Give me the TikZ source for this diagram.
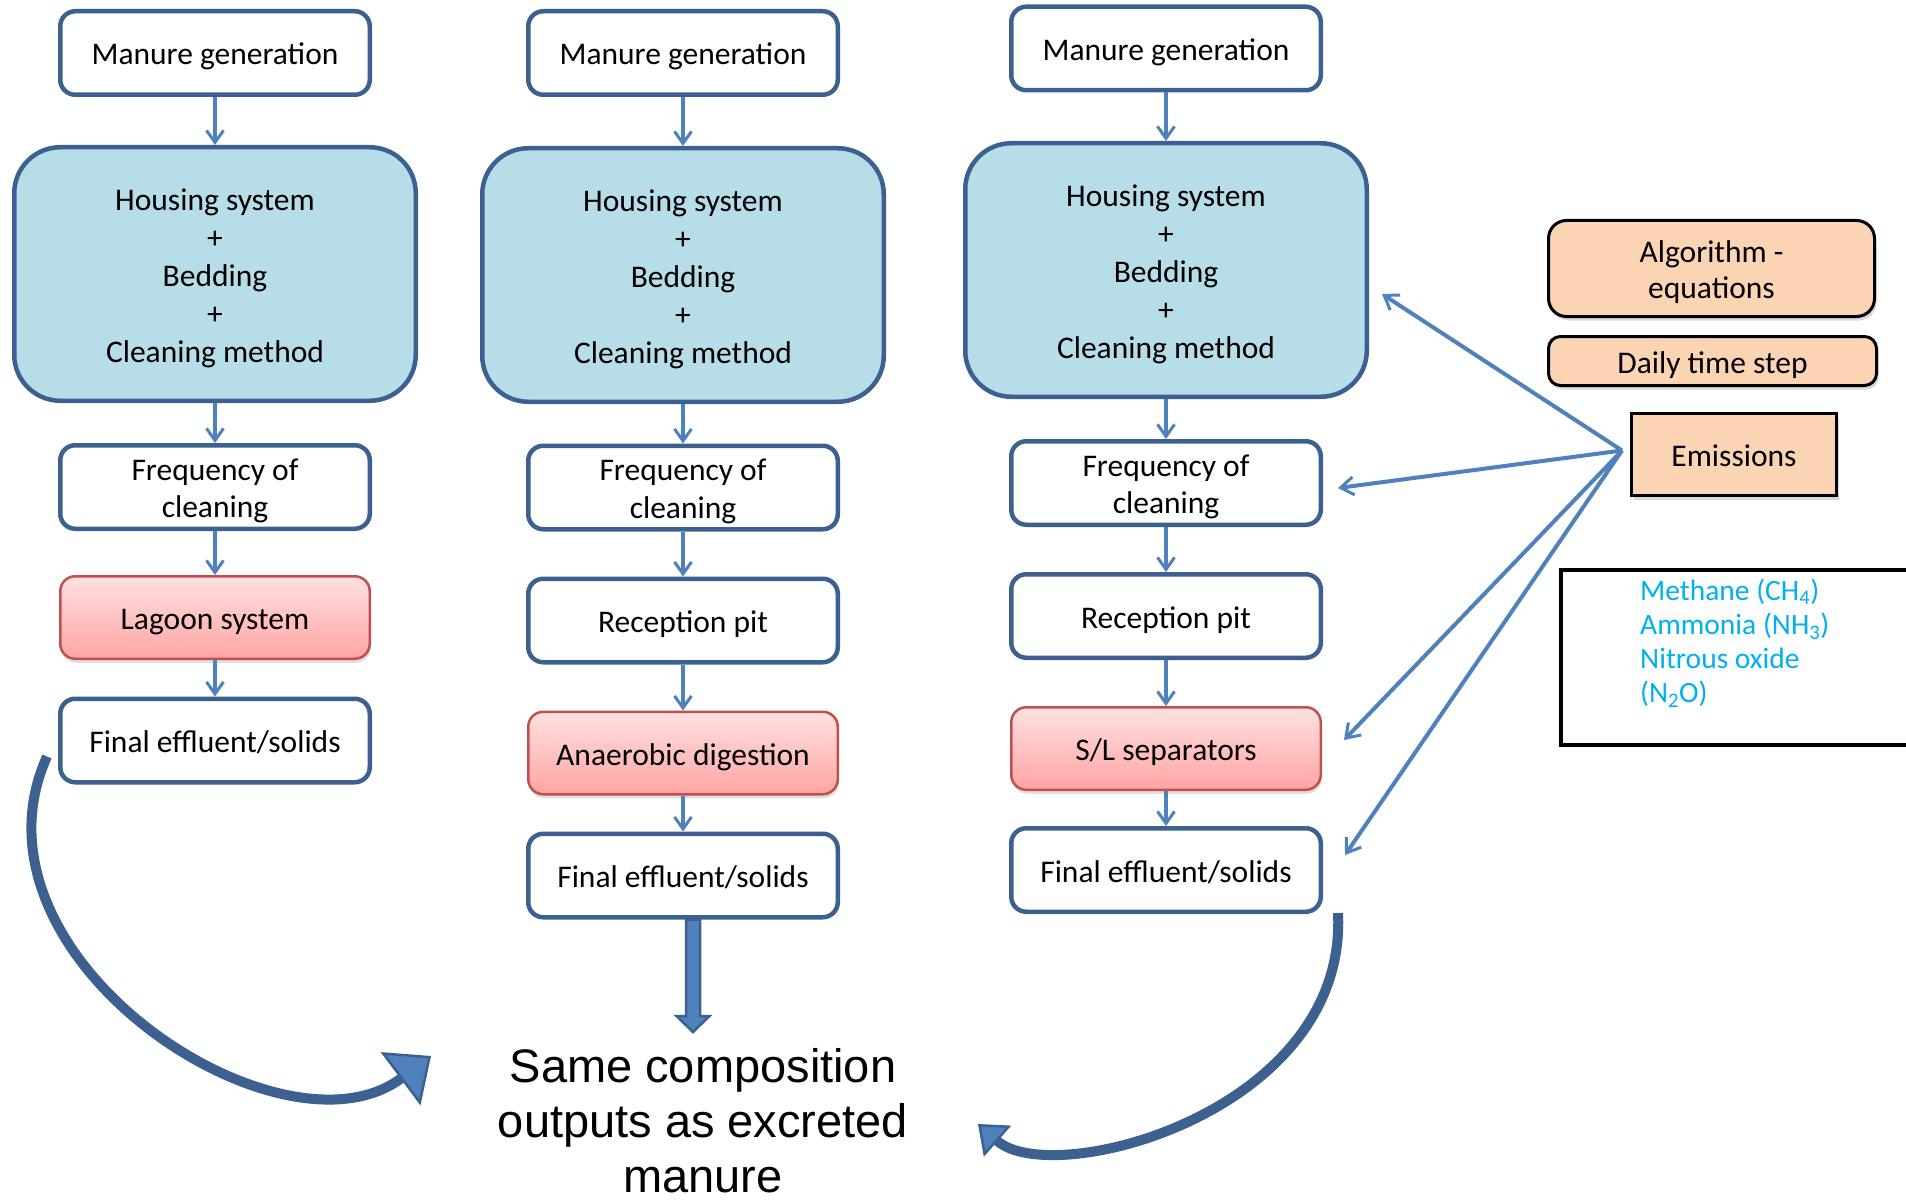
\documentclass[tikz,border=0pt]{standalone}
\usepackage{fontspec}
\setmainfont{Carlito}
\newfontfamily\capfont{Liberation Sans}
\usetikzlibrary{arrows.meta,calc,shadows}

\definecolor{boxline}{HTML}{3C6191}
\definecolor{flowblue}{HTML}{4F81BD}
\definecolor{housefill}{HTML}{B7DDE8}
\definecolor{redline}{HTML}{C0504D}
\definecolor{redtop}{HTML}{FFE1E1}
\definecolor{redbot}{HTML}{FFA4A4}
\definecolor{peach}{HTML}{FBD4B4}
\definecolor{gascyan}{HTML}{00B0F0}

% multi-line nodes keep the last baseline as reference, so their
% text height counts every line above the last one
\tikzset{
  boxfont/.style={font=\fontsize{31.5}{37.5}\selectfont, text height=24pt, text depth=0pt},
  twolines/.style={text height=61.5pt},
  stagebox/.style={boxfont, draw=boxline, line width=4.5pt, rounded corners=15pt, fill=white,
    minimum width=309.5pt, minimum height=83.5pt, align=center, inner sep=0pt},
  housebox/.style={boxfont, font=\fontsize{31.5}{38}\selectfont, text height=176pt,
    draw=boxline, line width=4.5pt, rounded corners=46pt, fill=housefill,
    minimum width=401.5pt, minimum height=253.5pt, align=center, inner sep=0pt},
  treatbox/.style={boxfont, draw=redline, line width=2.5pt, rounded corners=15pt,
    top color=redtop, bottom color=redbot, minimum width=309.5pt, minimum height=82.5pt,
    align=center, inner sep=0pt,
    drop shadow={shadow xshift=1pt, shadow yshift=-4pt, opacity=0.25}},
  peachbox/.style={boxfont, font=\fontsize{31.5}{36}\selectfont, draw=black, line width=3pt,
    fill=peach, align=center, inner sep=0pt,
    drop shadow={shadow xshift=2pt, shadow yshift=-4pt, opacity=0.3}},
  flowarrow/.style={draw=flowblue, line width=4.5pt,
    -{Straight Barb[length=12pt,width=17pt,line width=3pt]}},
  emitarrow/.style={draw=flowblue, line width=4pt,
    -{Straight Barb[length=13pt,width=18pt,line width=3pt]}},
  returnarrow/.style={draw=boxline, line width=10pt},
}

\begin{document}
\begin{tikzpicture}[x=1pt,y=-1pt]
\fill[white] (0,0) rectangle (1906,1201);
\useasboundingbox (0,0) rectangle (1906,1201);

% ---- column 1: lagoon route
\node[stagebox] (mg1) at (215,53) {Manure generation};
\node[housebox] (hs1) at (215,274) {Housing system\\+\\Bedding\\+\\Cleaning method};
\node[stagebox, twolines] (fr1) at (215,487) {Frequency of\\cleaning};
\node[treatbox] (lg1) at (215,617.5) {Lagoon system};
\node[stagebox] (fn1) at (215,740.5) {Final effluent/solids};

% ---- column 2: digestion route
\node[stagebox] (mg2) at (683,53) {Manure generation};
\node[housebox] (hs2) at (683,275) {Housing system\\+\\Bedding\\+\\Cleaning method};
\node[stagebox, twolines] (fr2) at (683,487.5) {Frequency of\\cleaning};
\node[stagebox] (rp2) at (683,620.5) {Reception pit};
\node[treatbox] (ad2) at (683,753) {Anaerobic digestion};
\node[stagebox] (fn2) at (683,875.5) {Final effluent/solids};

% ---- column 3: separation route
\node[stagebox] (mg3) at (1166,48.5) {Manure generation};
\node[housebox] (hs3) at (1166,270) {Housing system\\+\\Bedding\\+\\Cleaning method};
\node[stagebox, twolines] (fr3) at (1166,483) {Frequency of\\cleaning};
\node[stagebox] (rp3) at (1166,616) {Reception pit};
\node[treatbox] (sl3) at (1166,748.5) {S/L separators};
\node[stagebox] (fn3) at (1166,870) {Final effluent/solids};

% ---- flow arrows
\foreach \a/\b in {mg1/hs1,hs1/fr1,fr1/lg1,lg1/fn1,
                   mg2/hs2,hs2/fr2,fr2/rp2,rp2/ad2,ad2/fn2,
                   mg3/hs3,hs3/fr3,fr3/rp3,rp3/sl3,sl3/fn3}
  \draw[flowarrow] (\a) -- (\b);

% ---- model side panel
\node[peachbox, text height=60pt, minimum width=326pt, minimum height=96pt, rounded corners=18pt]
  (alg) at (1711.5,268.5) {Algorithm -\\equations};
\node[peachbox, minimum width=328pt, minimum height=49pt, rounded corners=12pt]
  (day) at (1712.5,361) {Daily time step};
\node[peachbox, minimum width=205pt, minimum height=82pt]
  (em) at (1734,454.5) {Emissions};

\node[draw=black, line width=4pt, minimum width=349pt, minimum height=175pt,
  anchor=north west, inner sep=0pt] (gasbox) at (1559,568) {};
\node[anchor=north west, inner sep=0pt, text height=124pt, text depth=0pt, align=left,
  text=gascyan, font=\fontsize{29.5}{34}\selectfont] (gases) at (1640,578)
  {Methane (CH\textsubscript{4})\\Ammonia (NH\textsubscript{3})\\Nitrous oxide\\(N\textsubscript{2}O)};

% ---- emission arrows
\coordinate (emsrc) at ($(em.west)+(-8,-4)$);
\draw[emitarrow] (emsrc) -- ($(hs3.east)+(13,24)$);
\draw[emitarrow] (emsrc) -- ($(fr3.east)+(15,5)$);
\draw[emitarrow] (emsrc) -- ($(sl3.east)+(22,-8.5)$);
\draw[emitarrow] (emsrc) -- ($(fn3.east)+(22,-15)$);

% ---- common output
\node[anchor=north, inner sep=0pt, align=center, text height=144pt, text depth=0pt,
  font=\capfont\fontsize{47}{55}\selectfont] (same) at (703,1048)
  {Same composition\\outputs as excreted\\manure};

\coordinate (bigtop) at ($(fn2.south)+(10,0)$);
\coordinate (bigtip) at ($(same.north)+(-10,-16)$);
\draw[fill=flowblue, draw=boxline, line width=2.5pt, line join=miter]
  ($(bigtop)+(-7,0)$) -- ($(bigtip)+(-7,-16)$) -- ($(bigtip)+(-16.5,-16)$) -- (bigtip)
  -- ($(bigtip)+(16.5,-16)$) -- ($(bigtip)+(7,-16)$) -- ($(bigtop)+(7,0)$) -- cycle;

\draw[returnarrow, -{Triangle[length=38pt,width=66pt,line width=2.5pt,fill=flowblue]}]
  ($(fn1.west)+(-11,16)$) .. controls (-43,957) and (281,1168) .. ($(same.north)+(-272,8)$);
\draw[returnarrow, -{Triangle[length=26pt,width=41pt,line width=2.5pt,fill=flowblue]}]
  ($(fn3.south east)+(15,-1)$) .. controls (1348,1112) and (1053,1190) .. ($(same.north)+(275,76)$);
\end{tikzpicture}
\end{document}
